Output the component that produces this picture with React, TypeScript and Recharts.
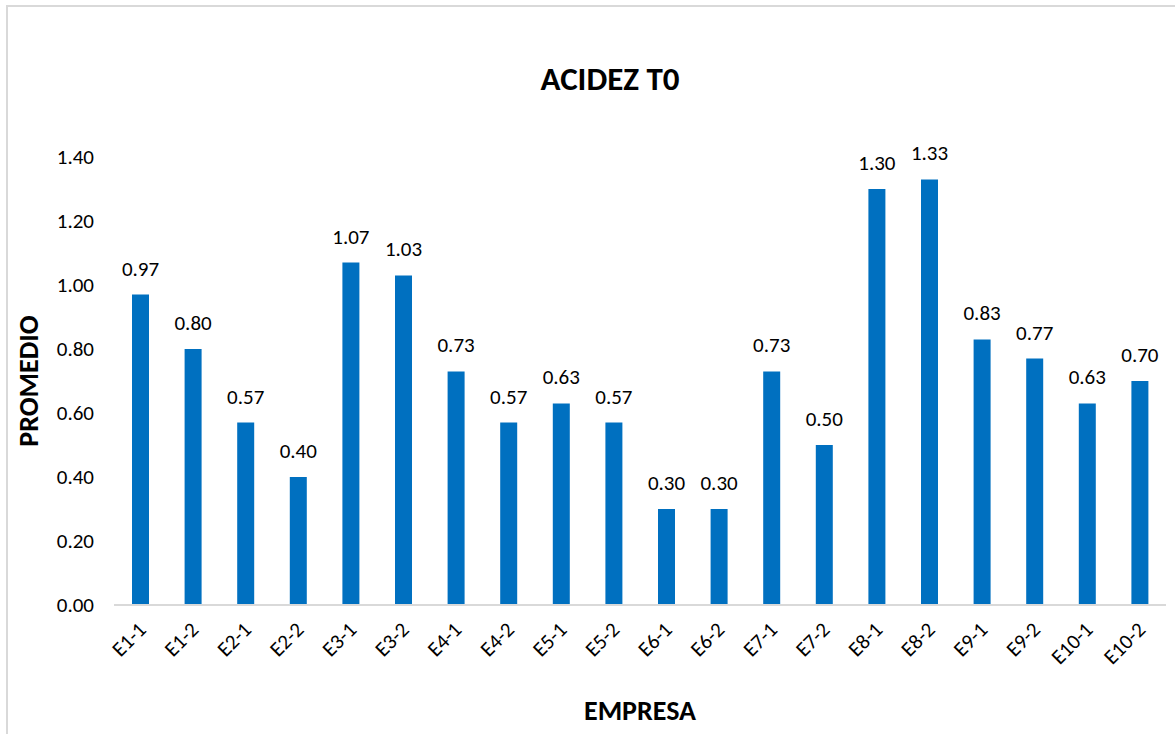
import { Bar, BarChart, LabelList, XAxis, YAxis } from "recharts";

const empresas = [
  "E1-1", "E1-2", "E2-1", "E2-2", "E3-1", "E3-2", "E4-1", "E4-2", "E5-1", "E5-2",
  "E6-1", "E6-2", "E7-1", "E7-2", "E8-1", "E8-2", "E9-1", "E9-2", "E10-1", "E10-2",
];
const promedio = [
  0.97, 0.8, 0.57, 0.4, 1.07, 1.03, 0.73, 0.57, 0.63, 0.57,
  0.3, 0.3, 0.73, 0.5, 1.3, 1.33, 0.83, 0.77, 0.63, 0.7,
];
const yTicks = [0, 0.2, 0.4, 0.6, 0.8, 1.0, 1.2, 1.4];

const data = empresas.map((name, i) => ({ name, value: promedio[i] }));
const font = "Calibri, Carlito, Lato, sans-serif";

function RotatedTick({ x, y, payload }: any) {
  return (
    <text
      x={x + 7}
      y={y + 18}
      transform={`rotate(-45, ${x + 7}, ${y + 18})`}
      textAnchor="end"
      fontSize={21}
      fontFamily={font}
      fill="#000"
    >
      {payload.value}
    </text>
  );
}

export default function App() {
  return (
    <div style={{ position: "absolute", left: 0, top: 0, width: 1175, height: 734, background: "#fff" }}>
      <div
        style={{
          position: "absolute",
          left: 6,
          top: 5,
          width: 1175,
          height: 740,
          border: "2px solid #d9d9d9",
          boxSizing: "border-box",
        }}
      />
      <div
        style={{
          position: "absolute",
          left: 0,
          width: 1220,
          top: 59,
          textAlign: "center",
          fontFamily: font,
          fontWeight: 700,
          fontSize: 33,
          color: "#000",
        }}
      >
        ACIDEZ T0
      </div>
      <BarChart
        width={1175}
        height={734}
        data={data}
        margin={{ top: 157, right: 9, bottom: 0, left: 0 }}
        style={{ position: "absolute", left: 0, top: 0, fontFamily: font }}
      >
        <XAxis
          dataKey="name"
          interval={0}
          tickLine={false}
          axisLine={{ stroke: "#d9d9d9", strokeWidth: 2 }}
          tick={<RotatedTick />}
          height={129}
          label={{
            value: "EMPRESA",
            position: "insideBottom",
            offset: 14,
            style: { fontSize: 28, fontWeight: 700, fill: "#000", fontFamily: font },
          }}
        />
        <YAxis
          domain={[0, 1.4]}
          ticks={yTicks}
          width={114}
          axisLine={false}
          tickLine={false}
          tickMargin={14}
          tickFormatter={(v: number) => v.toFixed(2)}
          tick={{ fontSize: 21, fill: "#000", fontFamily: font }}
          label={{
            value: "PROMEDIO",
            angle: -90,
            position: "insideLeft",
            offset: 28,
            style: { fontSize: 28, fontWeight: 700, fill: "#000", fontFamily: font, textAnchor: "middle" },
          }}
        />
        <Bar dataKey="value" fill="#0070C0" barSize={17} isAnimationActive={false}>
          <LabelList
            dataKey="value"
            position="top"
            offset={19}
            formatter={(v: any) => Number(v).toFixed(2)}
            style={{ fontSize: 21, fill: "#000", fontFamily: font }}
          />
        </Bar>
      </BarChart>
    </div>
  );
}
